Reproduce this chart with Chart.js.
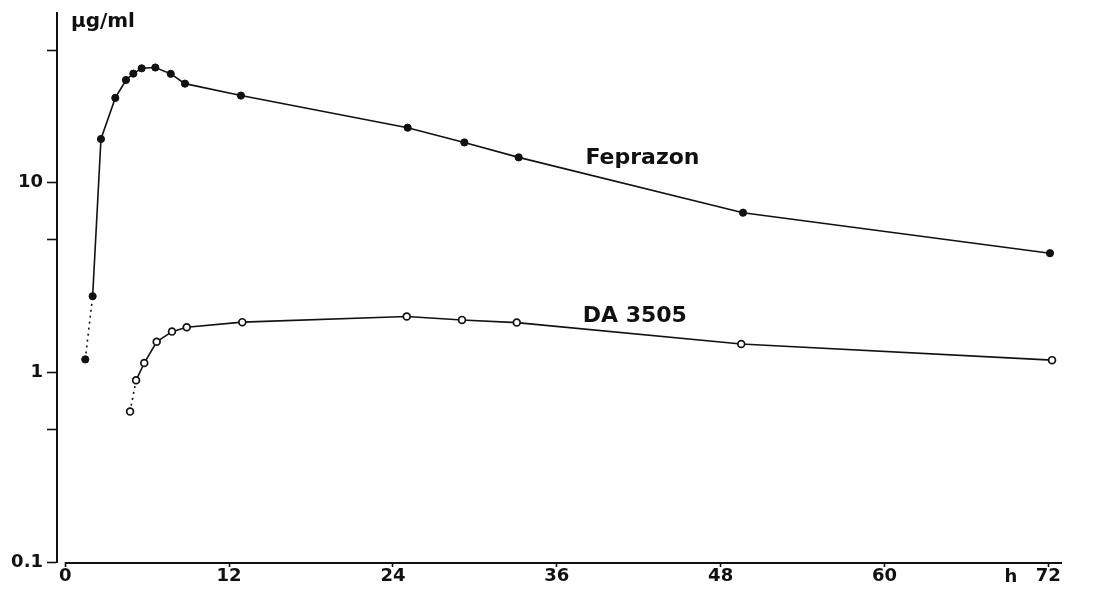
<!DOCTYPE html>
<html>
<head>
<meta charset="utf-8">
<style>
  html, body { margin: 0; padding: 0; background: #fff; }
  #wrap { width: 1096px; height: 598px; }
</style>
<script src="https://cdn.jsdelivr.net/npm/chart.js@4/dist/chart.umd.min.js"></script>
</head>
<body>
<div id="wrap"><canvas id="c" width="1096" height="598"></canvas></div>
<script>
// ---- data ----
const feprazonHours  = [1.47, 2.01, 2.62, 3.67, 4.45, 4.99, 5.60, 6.60, 7.73, 8.77, 12.87, 25.08, 29.23, 33.21, 49.64, 72.12];
const feprazonValues = [1.17, 2.52, 17.0, 28.0, 34.8, 37.6, 40.1, 40.5, 37.5, 33.3, 28.8, 19.5, 16.3, 13.6, 6.95, 4.25];
const da3505Hours    = [4.75, 5.19, 5.79, 6.70, 7.82, 8.90, 12.97, 25.01, 29.06, 33.07, 49.51, 72.27];
const da3505Values   = [0.621, 0.908, 1.12, 1.45, 1.64, 1.73, 1.84, 1.97, 1.89, 1.83, 1.41, 1.16];
const xTickValues    = [0, 12, 24, 36, 48, 60, 72];
const yTickValues    = [0.1, 0.5, 1, 5, 10, 50];
const yTickLabels    = ['0.1', '', '1', '', '10', ''];
const seriesNames    = ['Feprazon', 'DA 3505'];
const yUnitLabel     = 'µg/ml';
const xUnitLabel     = 'h';

// ---- annotation placement (data coordinates) ----
const notes = [
  { text: seriesNames[0], x: 38.1, y: 12.5, align: 'left',   font: 'bold 22px "DejaVu Sans"' },
  { text: seriesNames[1], x: 37.9, y: 1.85, align: 'left',   font: 'bold 22px "DejaVu Sans"' },
  { text: yUnitLabel,     x: 0.42, y: 66,   align: 'left',   font: 'bold 20px "DejaVu Sans"' }
];

const toXY = (xs, ys) => xs.map((x, i) => ({ x: x, y: ys[i] }));
const INK = '#111';

const annotate = {
  id: 'annotate',
  beforeDatasetsDraw(chart) {
    const { ctx, chartArea, scales: { x } } = chart;
    ctx.save();
    ctx.strokeStyle = INK;
    ctx.lineWidth = 2;
    ctx.beginPath();
    ctx.moveTo(x.getPixelForValue(0), chartArea.bottom + 1);
    ctx.lineTo(chartArea.right, chartArea.bottom + 1);
    ctx.stroke();
    ctx.restore();
  },
  afterDatasetsDraw(chart) {
    const { ctx, chartArea, scales: { x, y } } = chart;
    ctx.save();
    ctx.fillStyle = INK;
    ctx.textBaseline = 'alphabetic';
    notes.forEach(n => {
      ctx.font = n.font;
      ctx.textAlign = n.align;
      ctx.fillText(n.text, x.getPixelForValue(n.x), y.getPixelForValue(n.y));
    });
    ctx.font = 'bold 18px "DejaVu Sans"';
    ctx.textAlign = 'center';
    ctx.textBaseline = 'middle';
    ctx.fillText(xUnitLabel, x.getPixelForValue(69.26), chartArea.bottom + 15);
    ctx.restore();
  }
};

new Chart(document.getElementById('c'), {
  type: 'line',
  data: {
    datasets: [
      {
        label: seriesNames[0],
        data: toXY(feprazonHours, feprazonValues),
        borderColor: INK,
        borderWidth: 1.6,
        pointRadius: 3.6,
        pointBackgroundColor: INK,
        pointBorderColor: INK,
        pointBorderWidth: 1,
        tension: 0,
        segment: { borderDash: c => c.p0DataIndex === 0 ? [2, 4] : undefined }
      },
      {
        label: seriesNames[1],
        data: toXY(da3505Hours, da3505Values),
        borderColor: INK,
        borderWidth: 1.6,
        pointRadius: 3.4,
        pointBackgroundColor: '#fff',
        pointBorderColor: INK,
        pointBorderWidth: 1.7,
        tension: 0,
        segment: { borderDash: c => c.p0DataIndex === 0 ? [2, 4] : undefined }
      }
    ]
  },
  options: {
    responsive: false,
    animation: false,
    events: [],
    layout: { padding: { top: 12, right: 34, left: 0, bottom: 0 } },
    plugins: { legend: { display: false }, tooltip: { enabled: false } },
    scales: {
      x: {
        type: 'linear',
        min: -0.6,
        max: 73,
        afterFit: s => { s.height = 36; },
        afterBuildTicks: s => { s.ticks = xTickValues.map(v => ({ value: v })); },
        border: { display: false },
        grid: { drawOnChartArea: false, drawTicks: true, tickLength: 5, tickWidth: 1.6, tickColor: INK },
        ticks: {
          color: INK,
          padding: 0,
          maxRotation: 0,
          autoSkip: false,
          font: { family: 'DejaVu Sans', weight: 'bold', size: 18, lineHeight: 1 },
          callback: v => String(v)
        }
      },
      y: {
        type: 'logarithmic',
        min: 0.1,
        max: 78.5,
        afterFit: s => { s.width = 57; },
        afterBuildTicks: s => { s.ticks = yTickValues.map(v => ({ value: v })); },
        border: { display: true, color: INK, width: 2 },
        grid: { drawOnChartArea: false, drawTicks: true, tickLength: 10, tickWidth: 1.6, tickColor: INK },
        ticks: {
          color: INK,
          padding: 4,
          autoSkip: false,
          font: { family: 'DejaVu Sans', weight: 'bold', size: 18, lineHeight: 1 },
          callback: v => { const i = yTickValues.indexOf(v); return i >= 0 ? yTickLabels[i] : ''; }
        }
      }
    }
  },
  plugins: [annotate]
});
</script>
</body>
</html>
